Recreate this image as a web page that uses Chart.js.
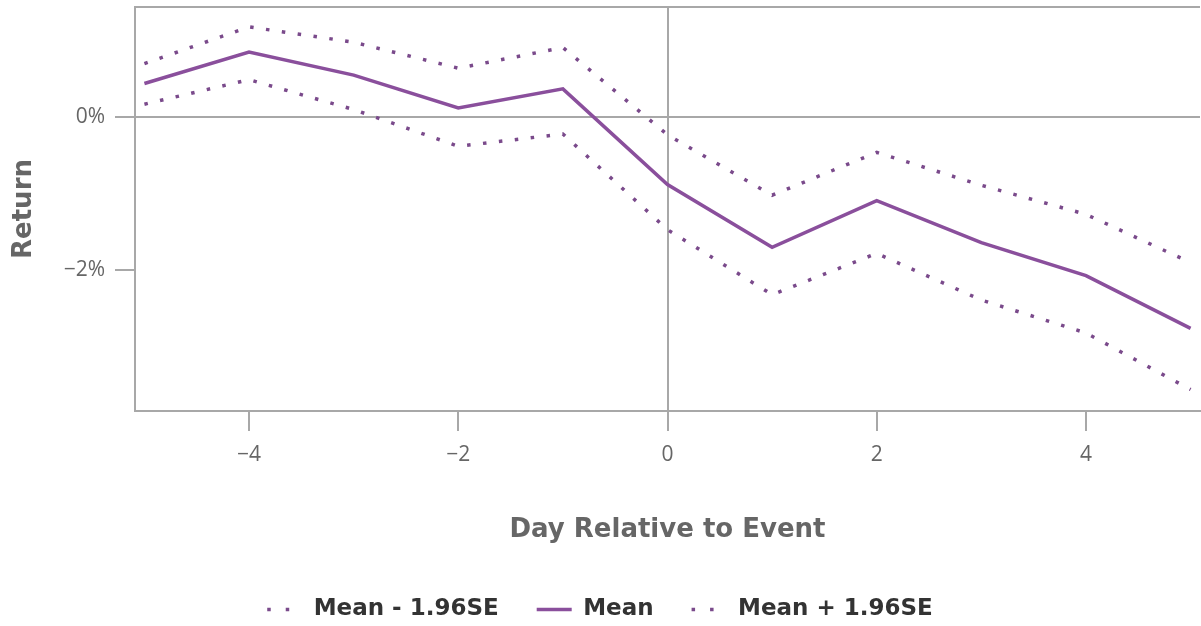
<!DOCTYPE html>
<html>
<head>
<meta charset="utf-8">
<script src="https://cdn.jsdelivr.net/npm/chart.js@4.4.1/dist/chart.umd.min.js"></script>
<style>
  html, body { margin: 0; padding: 0; background: #fff; }
  #wrap { width: 1201px; height: 626px; position: relative; }
</style>
</head>
<body>
<div id="wrap"><canvas id="eventChart"></canvas></div>
<script>
// event-study data, returns in percent
const days = [-5, -4, -3, -2, -1, 0, 1, 2, 3, 4, 5];
const meanReturn = [0.44, 0.85, 0.55, 0.12, 0.37, -0.88, -1.70, -1.09, -1.64, -2.07, -2.76];
const upperBand = [0.70, 1.18, 0.98, 0.64, 0.91, -0.23, -1.02, -0.46, -0.89, -1.27, -1.90];
const lowerBand = [0.17, 0.49, 0.10, -0.38, -0.22, -1.47, -2.32, -1.78, -2.39, -2.82, -3.56];
const xTicks = [-4, -2, 0, 2, 4];
const yTicks = [-2, 0];
const seriesNames = ['Mean - 1.96SE', 'Mean', 'Mean + 1.96SE'];

const purple = '#8a4f9c';
const dotColor = '#7a4a8b';
const axisGrey = '#a8a8a8';
const dots = [3.5, 12.5];

function toPoints(vals) {
    return days.map((d, i) => ({ x: d, y: vals[i] }));
}

function minusSign(v) {
    return String(v).replace('-', '\u2212');
}

// top frame line of the plot panel + fixed legend height
const framePlugin = {
    id: 'frame',
    beforeDatasetsDraw(chart) {
        const { ctx, chartArea } = chart;
        ctx.save();
        ctx.strokeStyle = axisGrey;
        ctx.lineWidth = 2;
        ctx.beginPath();
        ctx.moveTo(chartArea.left, chartArea.top);
        ctx.lineTo(chartArea.right, chartArea.top);
        ctx.stroke();
        ctx.restore();
    },
    beforeLayout(chart) {
        const lg = chart.legend;
        if (lg && !lg._fixed) {
            const fit = lg.fit;
            lg.fit = function() {
                fit.call(this);
                this.height = 66;
            };
            lg._fixed = true;
        }
    }
};

const ctx = document.getElementById('eventChart').getContext('2d');
const eventChart = new Chart(ctx, {
    type: 'line',
    data: {
        datasets: [
            {
                label: seriesNames[0],
                data: toPoints(lowerBand),
                borderColor: dotColor,
                backgroundColor: dotColor,
                borderWidth: 3.5,
                borderDash: dots,
                pointRadius: 0,
                tension: 0
            },
            {
                label: seriesNames[1],
                data: toPoints(meanReturn),
                borderColor: purple,
                backgroundColor: purple,
                borderWidth: 3.5,
                pointRadius: 0,
                tension: 0
            },
            {
                label: seriesNames[2],
                data: toPoints(upperBand),
                borderColor: dotColor,
                backgroundColor: dotColor,
                borderWidth: 3.5,
                borderDash: dots,
                pointRadius: 0,
                tension: 0
            }
        ]
    },
    options: {
        responsive: true,
        maintainAspectRatio: false,
        animation: false,
        layout: {
            padding: { top: 7, right: 1, left: 0, bottom: 0 }
        },
        plugins: {
            tooltip: { enabled: false },
            legend: {
                position: 'bottom',
                labels: {
                    usePointStyle: true,
                    pointStyle: 'line',
                    pointStyleWidth: 35,
                    padding: 38,
                    color: '#333',
                    font: { family: 'DejaVu Sans', weight: 'bold', size: 23 },
                    generateLabels(chart) {
                        const items = Chart.defaults.plugins.legend.labels.generateLabels(chart);
                        items.forEach(it => {
                            const ds = chart.data.datasets[it.datasetIndex];
                            it.strokeStyle = ds.borderColor;
                            it.lineWidth = 3.5;
                            if (ds.borderDash) {
                                // wider gap so the 35px sample only shows two dots
                                it.lineDash = [3.5, 15];
                                it.lineDashOffset = 0;
                            } else {
                                it.lineDash = [];
                            }
                        });
                        return items;
                    }
                }
            }
        },
        scales: {
            x: {
                type: 'linear',
                min: -5.09,
                max: 5.09,
                afterBuildTicks(scale) {
                    scale.ticks = xTicks.map(v => ({ value: v }));
                },
                afterFit(scale) {
                    scale.height = 626 - 411 - scale.chart.legend.height;
                    scale.paddingLeft = 0;
                    scale.paddingRight = 0;
                },
                border: { display: true, color: axisGrey, width: 2 },
                grid: {
                    color: c => (c.tick && c.tick.value === 0 ? axisGrey : 'rgba(0,0,0,0)'),
                    lineWidth: 2,
                    tickColor: axisGrey,
                    tickLength: 20,
                    tickWidth: 2
                },
                ticks: {
                    padding: 11,
                    color: '#666',
                    font: { family: 'Open Sans', size: 21 },
                    callback: v => minusSign(v)
                },
                title: {
                    display: true,
                    text: 'Day Relative to Event',
                    color: '#666',
                    font: { family: 'DejaVu Sans', weight: 'bold', size: 26 },
                    padding: { top: 0, bottom: 14 }
                }
            },
            y: {
                min: -3.84,
                max: 1.44,
                afterBuildTicks(scale) {
                    scale.ticks = yTicks.map(v => ({ value: v }));
                },
                afterFit(scale) {
                    scale.width = 135;
                    scale.paddingTop = 0;
                    scale.paddingBottom = 0;
                },
                border: { display: true, color: axisGrey, width: 2 },
                grid: {
                    color: c => (c.tick && c.tick.value === 0 ? axisGrey : 'rgba(0,0,0,0)'),
                    lineWidth: 2,
                    tickColor: axisGrey,
                    tickLength: 20,
                    tickWidth: 2
                },
                ticks: {
                    padding: 10,
                    color: '#666',
                    font: { family: 'Open Sans', size: 21 },
                    callback: v => minusSign(v) + '%'
                },
                title: {
                    display: true,
                    text: 'Return',
                    color: '#666',
                    font: { family: 'DejaVu Sans', weight: 'bold', size: 26 },
                    padding: { top: 9, bottom: 0 }
                }
            }
        }
    },
    plugins: [framePlugin]
});
</script>
</body>
</html>
